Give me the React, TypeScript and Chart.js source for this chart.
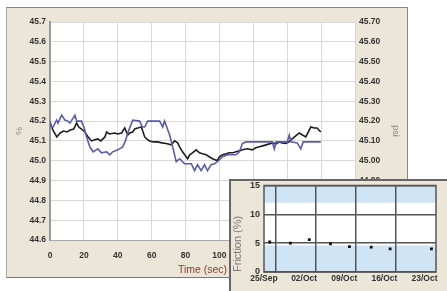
import { useEffect, useRef } from 'react';
import { Chart, registerables } from 'chart.js';
Chart.register(...registerables);

// ---- main chart data ----
const blackTime = [0,2,4,6,8,10,12,14,15.7,17,18.6,20.6,22.5,24.5,26,28.2,30,32.4,33.4,35,38.2,40,42.2,44.1,45.9,47,48.8,50,51.8,53.9,55.9,57,58.8,61,63.5,66,68.6,71.6,73.5,75.3,76.5,78.2,81.2,82.5,84.1,86.3,88.2,90,92.2,94,95.9,98.8,100,101.8,104,105.9,108,109.8,112,113.5,116.5,119.4,121.5,123.5,125.5,127.5,129.5,131.2,133.5,135.3,137,139.2,141,142.9,145,147.1,149,151,153.9,156,157.6,159.8];
const blackValues = [45.19,45.15,45.12,45.14,45.15,45.145,45.155,45.16,45.19,45.17,45.16,45.145,45.12,45.10,45.105,45.11,45.10,45.12,45.145,45.135,45.14,45.135,45.14,45.165,45.13,45.14,45.145,45.16,45.165,45.17,45.12,45.11,45.10,45.095,45.095,45.09,45.087,45.08,45.10,45.09,45.07,45.045,45.01,45.03,45.04,45.055,45.04,45.035,45.03,45.02,45.01,45.00,45.02,45.03,45.035,45.04,45.04,45.045,45.05,45.055,45.06,45.055,45.065,45.07,45.075,45.08,45.085,45.09,45.085,45.095,45.09,45.087,45.095,45.11,45.125,45.14,45.13,45.12,45.17,45.165,45.165,45.145];
const blueTime = [0,1,1.8,3.9,4.7,6.9,8.8,10.6,11.8,14.7,15.7,18.6,20,21.6,23.5,25.5,28.2,30.4,33.4,35.3,37,40,42.9,44.5,45.9,48.8,52.9,54.5,55.9,57.6,64.7,66.5,67.6,70.6,72.4,74.5,76.5,79.4,83.4,85.3,87.1,89.2,91.2,92.9,95.1,97.1,98.8,101.8,104.7,109.8,111.8,113.5,115.7,131.2,132.4,133.4,140,141.2,142.2,145.9,148,149.4,159.8];
const blueValues = [45.20,45.17,45.17,45.205,45.19,45.23,45.205,45.20,45.19,45.23,45.20,45.20,45.17,45.12,45.07,45.045,45.06,45.04,45.045,45.03,45.045,45.055,45.07,45.10,45.14,45.205,45.20,45.17,45.17,45.20,45.20,45.17,45.20,45.13,45.07,44.995,45.01,44.985,44.985,44.95,44.98,44.95,44.98,44.95,44.98,44.985,44.995,45.02,45.03,45.03,45.045,45.087,45.095,45.095,45.06,45.095,45.095,45.13,45.095,45.09,45.06,45.095,45.095];
const timeTicks = [0,20,40,60,80,100,120,140,160,180];
const pctTicks = [44.6,44.7,44.8,44.9,45.0,45.1,45.2,45.3,45.4,45.5,45.6,45.7];

// ---- inset data ----
const frictionDays = [1,4.6,7.9,11.6,14.9,18.7,22,29.2];
const frictionValues = [5.2,5.0,5.6,4.9,4.4,4.3,4.0,4.0];
const dateTickDays = [0,7,14,21,28];
const dateTickLabels = ['25/Sep','02/Oct','09/Oct','16/Oct','23/Oct'];
const dateGridDays = [2,9,16,23];
const frictionTicks = [0,5,10,15];
const bandLow = [12,0];
const bandHigh = [15,4.6];

const FONT = "'Liberation Sans', Arial, sans-serif";
const tickFont = { family: FONT, size: 8.5, weight: 'bold' as const };

export default function App() {
  const mainRef = useRef<HTMLCanvasElement>(null);
  const insetRef = useRef<HTMLCanvasElement>(null);

  useEffect(() => {
    const whiteArea = {
      id: 'whiteArea',
      beforeDraw(chart: any) {
        const { ctx, chartArea: a } = chart;
        ctx.save();
        ctx.fillStyle = '#ffffff';
        ctx.fillRect(a.left, a.top, a.right - a.left, a.bottom - a.top);
        ctx.restore();
      },
    };
    const main = new Chart(mainRef.current!, {
      type: 'line',
      data: {
        datasets: [
          {
            label: 'psi',
            data: blueTime.map((t, i) => ({ x: t, y: blueValues[i] })),
            borderColor: '#5a5cab',
            borderWidth: 1.6,
            pointRadius: 0,
            tension: 0,
          },
          {
            label: '%',
            data: blackTime.map((t, i) => ({ x: t, y: blackValues[i] })),
            borderColor: '#1e1e1e',
            borderWidth: 1.6,
            pointRadius: 0,
            tension: 0,
          },
        ],
      },
      options: {
        animation: false,
        responsive: false,
        devicePixelRatio: 1,
        layout: { padding: { top: 14, left: 0, right: 0, bottom: 0 } },
        plugins: { legend: { display: false }, tooltip: { enabled: false } },
        scales: {
          x: {
            type: 'linear',
            min: 0,
            max: 180,
            afterBuildTicks: (s: any) => { s.ticks = timeTicks.map((v) => ({ value: v })); },
            afterFit: (s: any) => { s.height = 37; },
            ticks: { font: tickFont, color: '#333', padding: 11, maxRotation: 0, autoSkip: false },
            grid: { color: '#d9d9d9', drawTicks: false },
            border: { color: '#aaaaaa', width: 1 },
            title: { display: true, text: 'Time (sec)', color: '#8c3b2c', font: { family: FONT, size: 10.5 }, padding: { top: 0, bottom: 1 } },
          },
          y: {
            position: 'left',
            min: 44.6,
            max: 45.7,
            afterBuildTicks: (s: any) => { s.ticks = pctTicks.map((v) => ({ value: v })); },
            afterFit: (s: any) => { s.width = 43; },
            ticks: { font: tickFont, color: '#333', padding: 4, callback: (v: any) => Number(v).toFixed(1) },
            grid: { color: '#d9d9d9', drawTicks: false },
            border: { color: '#9a9a9a', width: 2 },
            title: { display: true, text: '%', color: '#888', font: { family: FONT, size: 9 }, padding: { top: 7, bottom: 0 } },
          },
          y2: {
            position: 'right',
            min: 44.6,
            max: 45.7,
            afterBuildTicks: (s: any) => { s.ticks = pctTicks.map((v) => ({ value: v })); },
            afterFit: (s: any) => { s.width = 52; },
            ticks: { font: tickFont, color: '#333', padding: 4, callback: (v: any) => Number(v).toFixed(2) },
            grid: { display: false, drawTicks: false },
            border: { display: false },
            title: { display: true, text: 'psi', color: '#888', font: { family: FONT, size: 9 }, padding: { top: 6, bottom: 0 } },
          },
        },
      },
      plugins: [whiteArea],
    } as any);

    const bands = {
      id: 'bands',
      beforeDraw(chart: any) {
        const { ctx, chartArea: a, scales } = chart;
        const y = scales.y;
        ctx.save();
        ctx.fillStyle = '#ffffff';
        ctx.fillRect(a.left, a.top, a.right - a.left, a.bottom - a.top);
        ctx.fillStyle = '#cfe5f6';
        bandLow.forEach((lo, i) => {
          const top = y.getPixelForValue(bandHigh[i]);
          const bot = y.getPixelForValue(lo);
          ctx.fillRect(a.left, top, a.right - a.left, bot - top);
        });
        ctx.restore();
      },
      beforeDatasetsDraw(chart: any) {
        const { ctx, chartArea: a } = chart;
        ctx.save();
        ctx.strokeStyle = '#555';
        ctx.lineWidth = 1.5;
        ctx.strokeRect(a.left, a.top, a.right - a.left, a.bottom - a.top);
        ctx.restore();
      },
    };

    const inset = new Chart(insetRef.current!, {
      type: 'scatter',
      data: {
        datasets: [
          {
            label: 'Friction',
            data: frictionDays.map((d, i) => ({ x: d, y: frictionValues[i] })),
            backgroundColor: '#111',
            borderColor: '#111',
            pointStyle: 'rect',
            pointRadius: 2,
            borderWidth: 0,
          },
        ],
      },
      options: {
        animation: false,
        responsive: false,
        devicePixelRatio: 1,
        layout: { padding: { top: 0, left: 0, right: 11, bottom: 0 } },
        plugins: { legend: { display: false }, tooltip: { enabled: false } },
        scales: {
          x: {
            type: 'linear',
            min: 0,
            max: 30,
            afterBuildTicks: (s: any) => { s.ticks = dateTickDays.map((v) => ({ value: v })); },
            afterFit: (s: any) => { s.height = 19; },
            ticks: {
              font: { family: FONT, size: 8.5, weight: 'bold' },
              color: '#333',
              padding: 2,
              maxRotation: 0,
              autoSkip: false,
              callback: (v: any) => dateTickLabels[dateTickDays.indexOf(Number(v))] ?? '',
            },
            grid: { display: false, drawTicks: false },
            border: { display: false },
          },
          x2: {
            type: 'linear',
            position: 'bottom',
            min: 0,
            max: 30,
            afterBuildTicks: (s: any) => { s.ticks = dateGridDays.map((v) => ({ value: v })); },
            afterFit: (s: any) => { s.height = 0; },
            ticks: { display: false },
            grid: { color: '#555', lineWidth: 1.5, drawTicks: false },
            border: { display: false },
          },
          y: {
            min: 0,
            max: 15,
            afterBuildTicks: (s: any) => { s.ticks = frictionTicks.map((v) => ({ value: v })); },
            afterFit: (s: any) => { s.width = 33; },
            ticks: { font: { family: FONT, size: 9, weight: 'bold', lineHeight: 1 }, color: '#333', padding: 4 },
            grid: { color: '#555', lineWidth: 1.5, drawTicks: false },
            border: { display: false },
            title: { display: true, text: 'Friction (%)', align: 'start', color: '#777', font: { family: FONT, size: 11 }, padding: { top: 0, bottom: 0 } },
          },
        },
      },
      plugins: [bands],
    } as any);

    return () => {
      main.destroy();
      inset.destroy();
    };
  }, []);

  return (
    <div style={{ position: 'absolute', left: 0, top: 0, width: 447, height: 291, overflow: 'hidden', background: '#ffffff' }}>
      <div style={{ position: 'absolute', left: 6, top: 7, width: 400, height: 269, background: '#ece6d8', borderTop: '1px solid #888', borderLeft: '1px solid #aaa', borderRight: '1px solid #888', borderBottom: '1px solid #777' }}>
        <canvas ref={mainRef} width={400} height={269} style={{ position: 'absolute', left: 0, top: 0, width: 400, height: 269 }} />
      </div>
      <div style={{ position: 'absolute', left: 229, top: 179, width: 240, height: 140, background: '#ece6d8', border: '2px solid #666' }}>
        <canvas ref={insetRef} width={216} height={114} style={{ position: 'absolute', left: 0, top: -4, width: 216, height: 114 }} />
      </div>
    </div>
  );
}
